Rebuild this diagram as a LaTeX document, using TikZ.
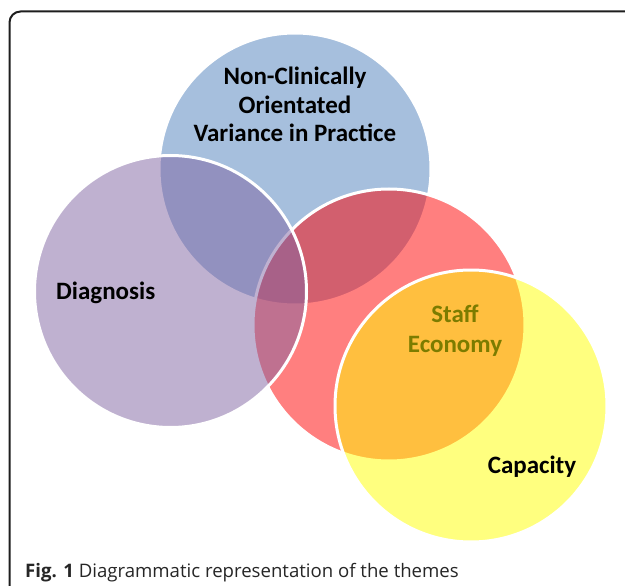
\documentclass[tikz,border=0pt]{standalone}
\usepackage{fontspec}
\setmainfont{Carlito}
\newfontfamily\capfont{Open Sans}
\definecolor{vblue}{RGB}{79,129,189}
\definecolor{vpurple}{RGB}{128,100,162}
\definecolor{vred}{RGB}{255,0,0}
\definecolor{vyellow}{RGB}{255,255,0}
\definecolor{olivetxt}{RGB}{124,124,0}
\definecolor{framecol}{RGB}{30,30,30}
\begin{document}
\begin{tikzpicture}[x=1pt,y=-1pt,
  venn/.style={circle, minimum size=272pt, inner sep=0pt, draw=white, line width=3pt, fill opacity=0.5},
  lbl/.style={font=\bfseries\fontsize{25}{28.5}\selectfont, align=center, inner sep=0pt},
  captxt/.style={font=\capfont\fontsize{18.6}{22}\selectfont, text=black!85, inner sep=0pt}
]
\useasboundingbox (0,0) rectangle (625,586);
\fill[white] (0,0) rectangle (625,586);
\draw[line width=2pt, draw=framecol, rounded corners=11pt] (9.5,620) -- (9.5,11.5) -- (650,11.5);
\node[venn, fill=vblue]   (blue)   at (295,169) {};
\node[venn, fill=vred]    (red)    at (389,325) {};
\node[venn, fill=vpurple] (purple) at (170.5,291.5) {};
\node[venn, fill=vyellow] (yellow) at (471,406) {};
\node[lbl, anchor=base] (tblue) at (295,142) {Non-Clinically\\Orientated\\Variance in Practice};
\node[lbl, anchor=base west] (tdiag) at (56,299) {Diagnosis};
\node[lbl, anchor=base, text=olivetxt, font=\bfseries\fontsize{25}{30}\selectfont] (tstaff) at (455,352) {Staff\\Economy};
\node[lbl, anchor=base] (tcap) at (532,473) {Capacity};
\node[captxt, anchor=base west] (caption) at (25,577) {\textbf{Fig. 1} Diagrammatic representation of the themes};
\end{tikzpicture}
\end{document}
